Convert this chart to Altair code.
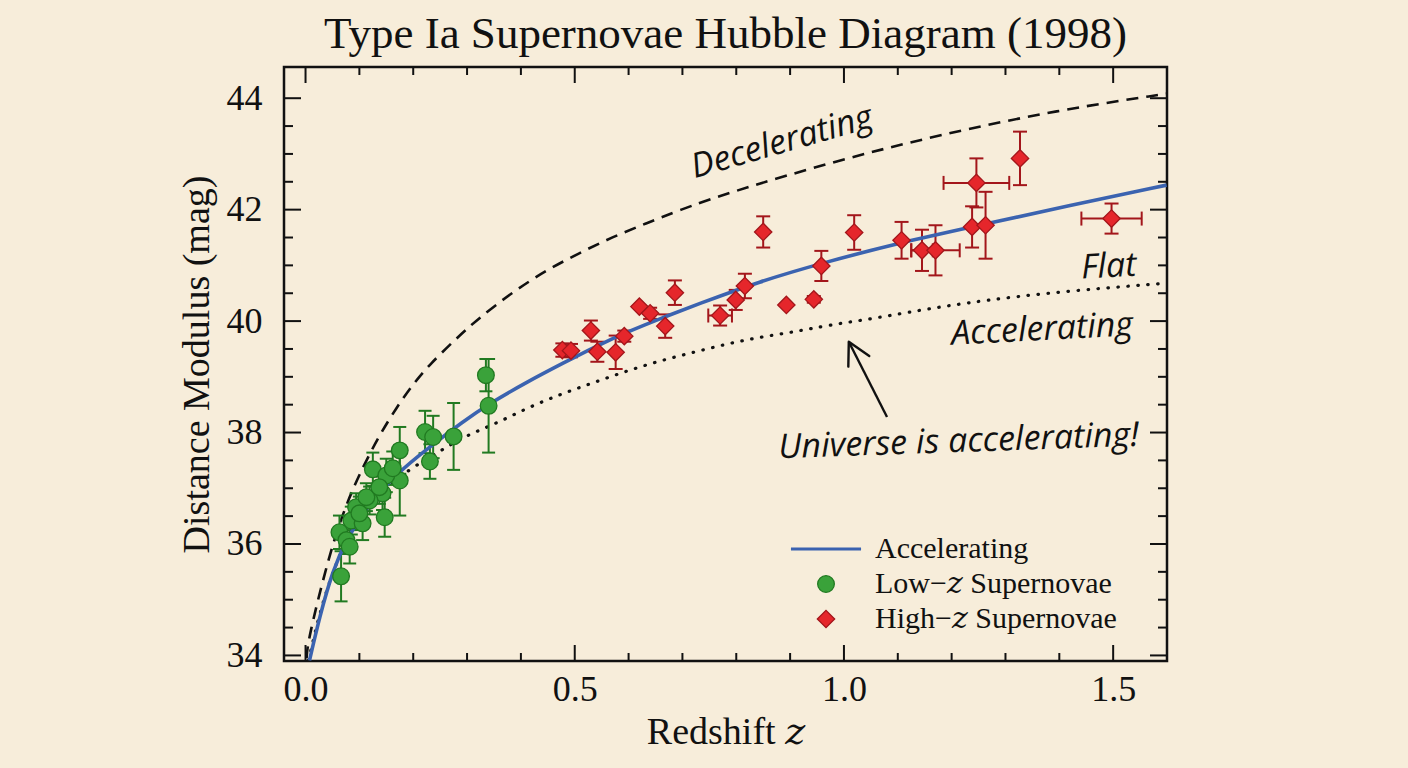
import altair as alt
import pandas as pd

SERIF = "'Liberation Serif', 'DejaVu Serif', serif"
HAND = "Open Sans"

TITLE = "Type Ia Supernovae Hubble Diagram (1998)"
X_TITLE = "Redshift 𝑧"
Y_TITLE = "Distance Modulus (mag)"
SERIES = ["Accelerating", "Low−𝑧 Supernovae", "High−𝑧 Supernovae"]

# ---- Low-z supernovae (green circles) ----
low_z = [0.066, 0.335, 0.340, 0.275, 0.222, 0.237, 0.231, 0.175, 0.175, 0.125, 0.147, 0.150,
         0.162, 0.143, 0.119, 0.094, 0.085, 0.106, 0.063, 0.076, 0.082, 0.113, 0.100, 0.137]
low_mu = [35.42, 39.03, 38.48, 37.93, 38.01, 37.92, 37.48, 37.68, 37.14, 37.34, 36.48, 37.23,
          37.36, 36.91, 36.78, 36.66, 36.42, 36.37, 36.21, 36.07, 35.95, 36.84, 36.55, 37.02]
low_err = [0.45, 0.29, 0.84, 0.60, 0.38, 0.38, 0.31, 0.42, 0.63, 0.30, 0.35, 0.30,
           0.30, 0.30, 0.25, 0.25, 0.25, 0.30, 0.30, 0.25, 0.30, 0.25, 0.30, 0.30]

# ---- High-z supernovae (red diamonds) ----
high_z = [0.477, 0.493, 0.530, 0.542, 0.576, 0.592, 0.620, 0.640, 0.668, 0.686, 0.770, 0.799, 0.816,
          0.850, 0.893, 0.944, 0.958, 1.019, 1.107, 1.145, 1.170, 1.238, 1.263, 1.246, 1.327, 1.497]
high_mu = [39.48, 39.47, 39.83, 39.45, 39.44, 39.73, 40.26, 40.14, 39.91, 40.51, 40.10, 40.38, 40.63,
           41.60, 40.29, 40.39, 40.99, 41.59, 41.45, 41.27, 41.27, 41.69, 41.72, 42.48, 42.92, 41.84]
high_err = [0.12, 0.12, 0.18, 0.18, 0.30, 0.10, 0.00, 0.10, 0.21, 0.22, 0.18, 0.18, 0.22,
            0.28, 0.00, 0.06, 0.27, 0.31, 0.33, 0.37, 0.45, 0.37, 0.60, 0.44, 0.48, 0.27]
high_zerr = [0, 0, 0, 0, 0, 0, 0, 0, 0, 0, 0.022, 0, 0,
             0, 0, 0, 0, 0, 0, 0.02, 0.045, 0, 0, 0.061, 0, 0.056]

# ---- Model curves ----
acc_z = [0.0074, 0.026, 0.0507, 0.0755, 0.1126, 0.1683, 0.2301, 0.2918, 0.3414, 0.4156, 0.4774,
         0.5393, 0.6011, 0.6629, 0.7249, 0.8423, 0.9660, 1.1020, 1.2380, 1.4174, 1.5993]
acc_mu = [33.91, 34.69, 35.53, 36.07, 36.66, 37.26, 37.74, 38.19, 38.52, 38.93, 39.24,
          39.55, 39.82, 40.06, 40.29, 40.71, 41.06, 41.40, 41.69, 42.07, 42.44]

dec_z = [0.002, 0.0043, 0.0445, 0.0755, 0.1063, 0.1373, 0.1683, 0.1991, 0.2301, 0.2857, 0.3228,
         0.3846, 0.4466, 0.5083, 0.5701, 0.6321, 0.6939, 0.7805, 0.9907, 1.1763, 1.3989, 1.5993]
dec_mu = [33.95, 34.27, 35.83, 36.72, 37.38, 37.95, 38.44, 38.86, 39.22, 39.74, 40.06,
          40.52, 40.91, 41.22, 41.51, 41.75, 41.99, 42.29, 42.89, 43.34, 43.79, 44.08]

flat_z = [0.0056, 0.0315, 0.0724, 0.128, 0.199, 0.2425, 0.2918, 0.3538, 0.4156, 0.4774, 0.5393,
          0.6011, 0.6629, 0.7249, 0.7866, 0.8484, 0.9104, 0.9722, 1.0588, 1.1763, 1.3618, 1.5993]
flat_mu = [33.91, 34.99, 36.07, 36.87, 37.38, 37.62, 37.92, 38.16, 38.46, 38.70, 38.91,
           39.12, 39.30, 39.45, 39.60, 39.72, 39.81, 39.93, 40.05, 40.26, 40.50, 40.68]

# ---- Annotations ----
note_text = ["Decelerating", "Flat", "Accelerating", "Universe is accelerating!"]
note_z = [0.885, 1.492, 1.368, 1.213]
note_mu = [43.20, 40.97, 39.84, 37.83]
note_angle = [344, 357, 357, 358]
arrow_tail = (1.080, 38.28)
arrow_tip = (1.009, 39.63)

# ---- Axis ticks ----
x_major = [0.0, 0.5, 1.0, 1.5]
x_minor = [0.1, 0.2, 0.3, 0.4, 0.6, 0.7, 0.8, 0.9, 1.1, 1.2, 1.3, 1.4]
y_major = [34, 36, 38, 40, 42, 44]
y_minor = [34.5, 35, 35.5, 36.5, 37, 37.5, 38.5, 39, 39.5, 40.5, 41, 41.5, 42.5, 43, 43.5]

BG = "#F7EDDA"
BLUE = "#3B63B0"
GREEN = "#3AA23A"
DKGREEN = "#217A21"
RED = "#E5262B"
DKRED = "#A3161B"
INK = "#111111"

W, H = 883, 594
MAJ, MIN = 16, 8

xs = alt.Scale(domain=[-0.04, 1.6], nice=False, zero=False)
ys = alt.Scale(domain=[33.9, 44.56], nice=False, zero=False)
xaxis = alt.Axis(values=x_major, format=".1f", ticks=False, domain=False, grid=False,
                 labelFont=SERIF, labelFontSize=36, labelColor=INK, labelPadding=11,
                 title=X_TITLE, titleFont=SERIF, titleFontSize=38, titleFontWeight="normal",
                 titleColor=INK, titlePadding=6)
yaxis = alt.Axis(values=y_major, format="d", ticks=False, domain=False, grid=False,
                 labelFont=SERIF, labelFontSize=36, labelColor=INK, labelPadding=22,
                 title=Y_TITLE, titleFont=SERIF, titleFontSize=38, titleFontWeight="normal",
                 titleColor=INK, titlePadding=10)


def X(f):
    return alt.X(f, type="quantitative", scale=xs, axis=xaxis)


def Y(f):
    return alt.Y(f, type="quantitative", scale=ys, axis=yaxis)


layers = []

# tick marks pointing inward on all four sides
for vals, ln in ((x_major, MAJ), (x_minor, MIN)):
    d = pd.DataFrame({"v": vals})
    layers.append(alt.Chart(d).mark_rule(color=INK, strokeWidth=2).encode(
        x=X("v"), y=alt.value(H), y2=alt.value(H - ln)))
    layers.append(alt.Chart(d).mark_rule(color=INK, strokeWidth=2).encode(
        x=X("v"), y=alt.value(0), y2=alt.value(ln)))
for vals, ln in ((y_major, MAJ + 1), (y_minor, MIN + 1)):
    d = pd.DataFrame({"v": vals})
    layers.append(alt.Chart(d).mark_rule(color=INK, strokeWidth=2).encode(
        y=Y("v"), x=alt.value(0), x2=alt.value(ln)))
    layers.append(alt.Chart(d).mark_rule(color=INK, strokeWidth=2).encode(
        y=Y("v"), x=alt.value(W), x2=alt.value(W - ln)))

# model curves
dec = pd.DataFrame({"z": dec_z, "mu": dec_mu})
flat = pd.DataFrame({"z": flat_z, "mu": flat_mu})
acc = pd.DataFrame({"z": acc_z, "mu": acc_mu})
layers.append(alt.Chart(dec).mark_line(color=INK, strokeWidth=2.6, strokeDash=[12, 8],
                                       interpolate="basis", clip=True).encode(x=X("z"), y=Y("mu")))
layers.append(alt.Chart(flat).mark_line(color=INK, strokeWidth=3.2, strokeDash=[0.5, 9.5],
                                        strokeCap="round", interpolate="basis", clip=True)
              .encode(x=X("z"), y=Y("mu")))

# error bars
low = pd.DataFrame({"z": low_z, "mu": low_mu, "err": low_err})
low["lo"] = low["mu"] - low["err"]
low["hi"] = low["mu"] + low["err"]
high = pd.DataFrame({"z": high_z, "mu": high_mu, "err": high_err, "zerr": high_zerr})
high["lo"] = high["mu"] - high["err"]
high["hi"] = high["mu"] + high["err"]
high["zlo"] = high["z"] - high["zerr"]
high["zhi"] = high["z"] + high["zerr"]
high_e = high[high["err"] > 0]
high_x = high[high["zerr"] > 0]

layers.append(alt.Chart(low).mark_rule(color=DKGREEN, strokeWidth=2).encode(
    x=X("z"), y=Y("lo"), y2=alt.Y2("hi")))
for f in ("lo", "hi"):
    layers.append(alt.Chart(low).mark_tick(color=DKGREEN, orient="horizontal", size=13,
                                           thickness=2, opacity=1).encode(x=X("z"), y=Y(f)))
layers.append(alt.Chart(high_e).mark_rule(color=DKRED, strokeWidth=2).encode(
    x=X("z"), y=Y("lo"), y2=alt.Y2("hi")))
for f in ("lo", "hi"):
    layers.append(alt.Chart(high_e).mark_tick(color=DKRED, orient="horizontal", size=14,
                                              thickness=2, opacity=1).encode(x=X("z"), y=Y(f)))
layers.append(alt.Chart(high_x).mark_rule(color=DKRED, strokeWidth=2).encode(
    x=X("zlo"), x2=alt.X2("zhi"), y=Y("mu")))
for f in ("zlo", "zhi"):
    layers.append(alt.Chart(high_x).mark_tick(color=DKRED, orient="vertical", size=14,
                                              thickness=2, opacity=1).encode(x=X(f), y=Y("mu")))

# fitted accelerating curve
layers.append(alt.Chart(acc).mark_line(color=BLUE, strokeWidth=3.6, interpolate="basis",
                                       clip=True).encode(x=X("z"), y=Y("mu")))

# data points with the legend
pts = pd.concat([
    pd.DataFrame({"z": low_z, "mu": low_mu, "series": SERIES[1]}),
    pd.DataFrame({"z": high_z, "mu": high_mu, "series": SERIES[2]}),
])
LINE_PATH = "M-4.3,-0.12L4.3,-0.12L4.3,0.12L-4.3,0.12Z"
leg = alt.Legend(title=None, orient="none", legendX=527, legendY=467, padding=0,
                 labelFont=SERIF, labelFontSize=30, labelColor=INK, labelLimit=500,
                 symbolSize=256, labelOffset=34, rowPadding=5, symbolStrokeWidth=1.3)
layers.append(alt.Chart(pts).mark_point(filled=True, opacity=1, strokeWidth=1.3).encode(
    x=X("z"), y=Y("mu"),
    color=alt.Color("series:N", scale=alt.Scale(domain=SERIES, range=[BLUE, GREEN, RED]), legend=leg),
    shape=alt.Shape("series:N", scale=alt.Scale(domain=SERIES, range=[LINE_PATH, "circle", "diamond"]),
                    legend=leg),
    stroke=alt.Stroke("series:N", scale=alt.Scale(domain=SERIES, range=[BLUE, DKGREEN, DKRED]),
                      legend=leg),
    size=alt.Size("series:N", scale=alt.Scale(domain=SERIES, range=[256, 300, 420]), legend=None),
))

# handwritten-style annotations
notes = pd.DataFrame({"z": note_z, "mu": note_mu, "text": note_text, "angle": note_angle})
layers.append(alt.Chart(notes).mark_text(font=HAND, fontStyle="italic", fontSize=34, color=INK,
                                         align="center", baseline="middle").encode(
    x=X("z"), y=Y("mu"), text="text:N", angle=alt.Angle("angle:Q", scale=None)))

arrow = pd.DataFrame({"z": [arrow_tail[0]], "mu": [arrow_tail[1]],
                      "z2": [arrow_tip[0]], "mu2": [arrow_tip[1]]})
layers.append(alt.Chart(arrow).mark_rule(color=INK, strokeWidth=2.4).encode(
    x=X("z"), y=Y("mu"), x2=alt.X2("z2"), y2=alt.Y2("mu2")))
HEAD = "M-0.47,0.88L0,0L0.47,0.88"
layers.append(alt.Chart(arrow).mark_point(shape=HEAD, filled=False, color=INK, strokeWidth=2.4,
                                          size=2500, angle=333, opacity=1,
                                          strokeCap="round", strokeJoin="round").encode(
    x=X("z2"), y=Y("mu2")))

chart = alt.layer(*layers).properties(
    width=W, height=H,
    title=alt.TitleParams(TITLE, font=SERIF, fontSize=45, fontWeight="normal", color=INK,
                          anchor="middle", offset=9),
    autosize=alt.AutoSizeParams(type="none"),
    padding={"left": 284, "top": 67, "right": 241, "bottom": 107},
    background=BG,
).configure_view(stroke=INK, strokeWidth=2.5)

chart.save("out.html", embed_options={"renderer": "svg", "actions": False})
